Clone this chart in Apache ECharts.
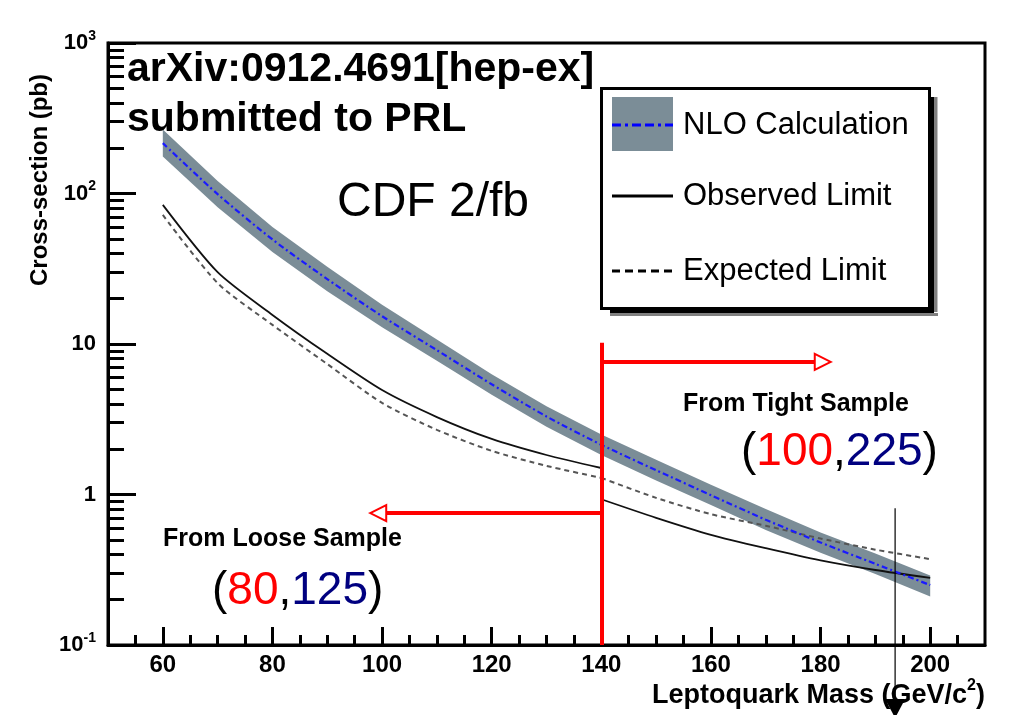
<!DOCTYPE html>
<html><head><meta charset="utf-8">
<script src="https://cdn.jsdelivr.net/npm/echarts@6/dist/echarts.min.js"></script>
<style>html,body{margin:0;padding:0;background:#fff}#c{width:1017px;height:715px}</style>
</head><body><div id="c"></div>
<script>
// ---- data ----
const massGrid   = [60,70,80,90,100,110,120,130,140,150,160,170,180,190,200];
const nloCenter  = [216, 99, 49.5, 27, 15.3, 9.1, 5.4, 3.3, 2.14, 1.45, 0.99, 0.68, 0.48, 0.346, 0.25];
const nloUpper   = [266, 121, 60, 32.6, 18.2, 10.7, 6.3, 3.86, 2.5, 1.70, 1.16, 0.80, 0.56, 0.405, 0.29];
const nloLower   = [176, 81, 40.8, 22.4, 12.9, 7.75, 4.6, 2.82, 1.83, 1.24, 0.85, 0.58, 0.41, 0.296, 0.21];
const looseMass  = [60,70,80,90,100,110,120,130,140];
const obsLoose   = [84, 30, 15.6, 8.6, 4.94, 3.27, 2.34, 1.83, 1.5];
const expLoose   = [72, 25.4, 13.4, 7.36, 4.06, 2.69, 1.95, 1.55, 1.29];
const tightMass  = [140,150,160,170,180,190,200];
const obsTight   = [0.93, 0.70, 0.54, 0.44, 0.365, 0.315, 0.279];
const expTight   = [1.29, 0.95, 0.74, 0.62, 0.51, 0.43, 0.372];

const xMajorTicks = [60,80,100,120,140,160,180,200];
const xMinorTicks = [55,65,70,75,85,90,95,105,110,115,125,130,135,145,150,155,165,170,175,185,190,195,205];
const yTickValues = [0.1, 1, 10, 100, 1000];
const yTickLabels = ['10{s|-1}', '1', '10', '10{s|2}', '10{s|3}'];

// annotations (data coordinates)
const cutMass = 140, cutTop = 10.2;
const tightArrowY = 7.6, tightArrowTo = 180.4;
const looseArrowY = 0.753, looseArrowTo = 99.3;
const markerMass = 193.6, markerTop = 0.81;

const FONT = "'Liberation Sans', Arial, Helvetica, sans-serif";
const pairs = (xs, ys) => xs.map((x, i) => [x, ys[i]]);

// minor log ticks (positions in log10 space)
const yMinorLog = [];
for (let d = -1; d <= 2; d++) for (let k = 2; k <= 9; k++) yMinorLog.push(Math.log10(k) + d);

const chart = echarts.init(document.getElementById('c'), null, {renderer: 'canvas'});

const lineBase = {type: 'line', symbol: 'none', smooth: 0.25, silent: true, animation: false, z: 3};

chart.setOption({
  animation: false,
  backgroundColor: '#fff',
  grid: {left: 108, right: 32, top: 43, bottom: 70, show: true, borderColor: '#000', borderWidth: 3, containLabel: false, outerBoundsMode: 'none'},
  xAxis: [
    {type: 'value', min: 50, max: 210, position: 'bottom',
     axisLine: {show: true, onZero: false, lineStyle: {color: '#000', width: 3}},
     axisTick: {show: true, inside: true, length: 18, lineStyle: {color: '#000', width: 3}, customValues: xMajorTicks},
     axisLabel: {customValues: xMajorTicks, color: '#000', fontSize: 24, fontWeight: 'bold', fontFamily: FONT, margin: 8},
     splitLine: {show: false}},
    {type: 'value', min: 50, max: 210, position: 'bottom',
     axisLine: {show: false, onZero: false},
     axisTick: {show: true, inside: true, length: 10, lineStyle: {color: '#000', width: 3}, customValues: xMinorTicks},
     axisLabel: {show: false}, splitLine: {show: false}}
  ],
  yAxis: [
    {type: 'log', logBase: 10, min: 0.1, max: 1000, position: 'left',
     axisLine: {show: true, onZero: false, lineStyle: {color: '#000', width: 3}},
     axisTick: {show: true, inside: true, length: 28, lineStyle: {color: '#000', width: 3}},
     axisLabel: {
       color: '#000', fontSize: 22, fontWeight: 'bold', fontFamily: FONT, margin: 12,
       formatter: function (v) {
         for (let i = 0; i < yTickValues.length; i++) {
           if (Math.abs(Math.log10(v) - Math.log10(yTickValues[i])) < 1e-6) return yTickLabels[i];
         }
         return '';
       },
       rich: {s: {fontSize: 14, fontWeight: 'bold', fontFamily: FONT, color: '#000', padding: [0, 0, 14, 0]}}
     },
     splitLine: {show: false}, minorTick: {show: false}},
    {type: 'value', min: -1, max: 3, position: 'left',
     axisLine: {show: false, onZero: false},
     axisTick: {show: true, inside: true, length: 16, lineStyle: {color: '#000', width: 3}, customValues: yMinorLog},
     axisLabel: {show: false}, splitLine: {show: false}}
  ],
  series: [
    {type: 'custom', silent: true, z: 1, animation: false, clip: true,
     data: massGrid.map((m, i) => [m, nloLower[i], nloUpper[i]]),
     encode: {x: 0, y: [1, 2]},
     renderItem: function (params, api) {
       if (params.dataIndex !== 0) return {type: 'group', children: []};
       const pts = [];
       for (let i = 0; i < massGrid.length; i++) pts.push(api.coord([massGrid[i], nloUpper[i]]));
       for (let i = massGrid.length - 1; i >= 0; i--) pts.push(api.coord([massGrid[i], nloLower[i]]));
       return {type: 'polygon', shape: {points: pts, smooth: 0}, style: {fill: '#7b8d97'}};
     }},
    Object.assign({}, lineBase, {name: 'NLO Calculation', data: pairs(massGrid, nloCenter), z: 4,
      lineStyle: {color: '#1a1aff', width: 2.2, type: [6, 3, 2, 3]}}),
    Object.assign({}, lineBase, {name: 'Expected loose', data: pairs(looseMass, expLoose),
      lineStyle: {color: '#555', width: 2, type: [5, 4]}}),
    Object.assign({}, lineBase, {name: 'Expected tight', data: pairs(tightMass, expTight),
      lineStyle: {color: '#555', width: 2, type: [5, 4]}}),
    Object.assign({}, lineBase, {name: 'Observed loose', data: pairs(looseMass, obsLoose),
      lineStyle: {color: '#111', width: 1.8}}),
    Object.assign({}, lineBase, {name: 'Observed tight', data: pairs(tightMass, obsTight),
      lineStyle: {color: '#111', width: 1.8},
      markLine: {
        silent: true, animation: false, z: 10,
        symbol: ['none', 'emptyTriangle'], symbolSize: 16,
        label: {show: false},
        lineStyle: {color: '#ff0000', width: 4, type: 'solid'},
        emphasis: {disabled: true},
        data: [
          [{coord: [cutMass, cutTop], symbol: 'none'}, {coord: [cutMass, 0.1], symbol: 'none'}],
          [{coord: [cutMass, tightArrowY], symbol: 'none'}, {coord: [tightArrowTo, tightArrowY]}],
          [{coord: [cutMass, looseArrowY], symbol: 'none'}, {coord: [looseArrowTo, looseArrowY]}]
        ]
      }})
  ]
});

// marker arrow position through the axes
const mTop = chart.convertToPixel({xAxisIndex: 0, yAxisIndex: 0}, [markerMass, markerTop]);
const mx = mTop[0];

const graphics = [
  // top-left texts
  {id: 't1', type: 'text', z: 50, style: {text: 'arXiv:0912.4691[hep-ex]', x: 127, y: 70, fill: '#000', font: 'bold 41px ' + FONT, verticalAlign: 'middle'}},
  {id: 't2', type: 'text', z: 50, style: {text: 'submitted to PRL', x: 127, y: 120, fill: '#000', font: 'bold 41px ' + FONT, verticalAlign: 'middle'}},
  {id: 't3', type: 'text', z: 50, style: {text: 'CDF 2/fb', x: 337, y: 203, fill: '#000', font: '48px ' + FONT, verticalAlign: 'middle'}},
  // axis titles
  {id: 'yt', type: 'text', z: 50, x: 40, y: 286, rotation: Math.PI / 2,
   style: {text: 'Cross-section (pb)', x: 0, y: 0, fill: '#000', font: 'bold 24px ' + FONT, align: 'left', verticalAlign: 'middle'}},
  {id: 'xt', type: 'text', z: 50,
   style: {text: 'Leptoquark Mass (GeV/c{s|2})', x: 985, y: 696, fill: '#000', font: 'bold 27px ' + FONT, align: 'right', verticalAlign: 'middle',
     rich: {s: {fontSize: 16, fontWeight: 'bold', fontFamily: FONT, fill: '#000', padding: [0, 0, 20, 0]}}}},
  // sample annotations
  {id: 'ft', type: 'text', z: 50, style: {text: 'From Tight Sample', x: 683, y: 404, fill: '#000', font: 'bold 25px ' + FONT, verticalAlign: 'middle'}},
  {id: 'fl', type: 'text', z: 50, style: {text: 'From Loose Sample', x: 163, y: 539, fill: '#000', font: 'bold 25px ' + FONT, verticalAlign: 'middle'}},
  {id: 'nt', type: 'text', z: 50, style: {text: '({r|100},{b|225})', x: 741, y: 452, fill: '#000', font: '46px ' + FONT, verticalAlign: 'middle',
     rich: {r: {fill: '#ff0000', fontSize: 46, fontFamily: FONT}, b: {fill: '#000080', fontSize: 46, fontFamily: FONT}}}},
  {id: 'nl', type: 'text', z: 50, style: {text: '({r|80},{b|125})', x: 212, y: 591, fill: '#000', font: '46px ' + FONT, verticalAlign: 'middle',
     rich: {r: {fill: '#ff0000', fontSize: 46, fontFamily: FONT}, b: {fill: '#000080', fontSize: 46, fontFamily: FONT}}}},
  // legend shadow + box
  {id: 'ls1', type: 'rect', z: 60, shape: {x: 931, y: 97, width: 3.5, height: 215}, style: {fill: '#000'}},
  {id: 'ls2', type: 'rect', z: 60, shape: {x: 934.5, y: 97, width: 3, height: 215}, style: {fill: '#808080'}},
  {id: 'ls3', type: 'rect', z: 60, shape: {x: 610, y: 309.5, width: 324, height: 3.5}, style: {fill: '#000'}},
  {id: 'ls4', type: 'rect', z: 60, shape: {x: 610, y: 313, width: 328, height: 3}, style: {fill: '#808080'}},
  {id: 'lb', type: 'rect', z: 61, shape: {x: 601.5, y: 88.5, width: 328, height: 220}, style: {fill: '#fff', stroke: '#000', lineWidth: 3}},
  {id: 'lg1', type: 'rect', z: 62, shape: {x: 612, y: 97, width: 61, height: 54}, style: {fill: '#7b8d97'}},
  {id: 'lg1l', type: 'line', z: 63, shape: {x1: 612, y1: 125, x2: 673, y2: 125}, style: {stroke: '#0000ff', lineWidth: 3, lineDash: [9, 4, 3, 4, 9, 4]}},
  {id: 'lg2l', type: 'line', z: 63, shape: {x1: 612, y1: 196, x2: 673, y2: 196}, style: {stroke: '#000', lineWidth: 3}},
  {id: 'lg3l', type: 'line', z: 63, shape: {x1: 612, y1: 271, x2: 673, y2: 271}, style: {stroke: '#000', lineWidth: 3, lineDash: [8, 5]}},
  {id: 'lg1t', type: 'text', z: 63, style: {text: 'NLO Calculation', x: 683, y: 125, fill: '#000', font: '31px ' + FONT, verticalAlign: 'middle'}},
  {id: 'lg2t', type: 'text', z: 63, style: {text: 'Observed Limit', x: 683, y: 196, fill: '#000', font: '31px ' + FONT, verticalAlign: 'middle'}},
  {id: 'lg3t', type: 'text', z: 63, style: {text: 'Expected Limit', x: 683, y: 271, fill: '#000', font: '31px ' + FONT, verticalAlign: 'middle'}},
  // marker arrow
  {id: 'ma', type: 'line', z: 40, shape: {x1: mx, y1: mTop[1], x2: mx, y2: 702}, style: {stroke: '#000', lineWidth: 1.2}},
  {id: 'mh', type: 'polygon', z: 40, shape: {points: [[mx - 10, 699], [mx + 10, 699], [mx, 718]]}, style: {fill: '#000'}}
];
chart.setOption({graphic: graphics});
</script>
</body></html>
